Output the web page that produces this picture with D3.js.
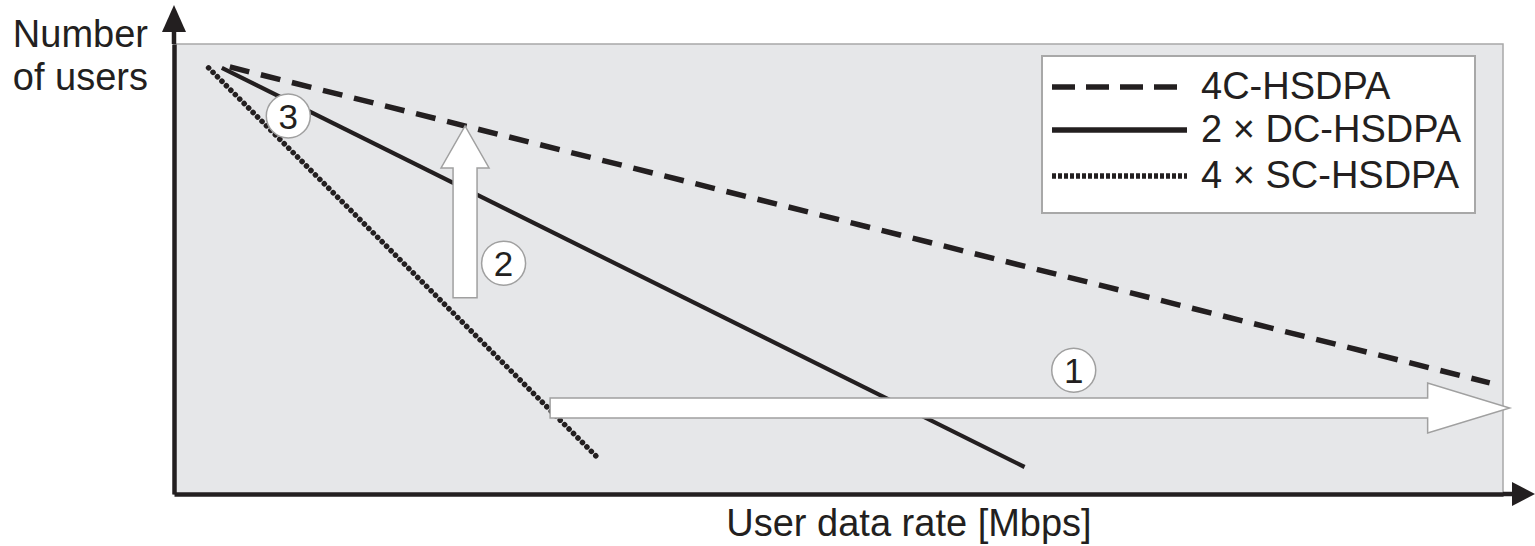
<!DOCTYPE html>
<html>
<head>
<meta charset="utf-8">
<script src="https://cdn.jsdelivr.net/npm/d3@7"></script>
<style>
  html, body { margin: 0; padding: 0; background: #ffffff; }
  svg { display: block; }
  text { font-family: "Liberation Sans", Arial, Helvetica, sans-serif; fill: #231f20; }
</style>
</head>
<body>
<svg id="chart" width="1535" height="546"></svg>
<script>
// ---- data (conceptual chart, arbitrary units 0..100) ----
const seriesNames = ["4C-HSDPA", "2 \u00d7 DC-HSDPA", "4 \u00d7 SC-HSDPA"];
const series4C = [{ x: 4.2, y: 94.9 }, { x: 99.0, y: 24.7 }];
const series2DC = [{ x: 3.6, y: 94.7 }, { x: 64.0, y: 6.0 }];
const series4SC = [{ x: 2.6, y: 94.7 }, { x: 31.9, y: 8.0 }];
const arrowRate = [{ x: 28.3, y: 19.1 }, { x: 100.5, y: 19.1 }];   // arrow 1
const arrowUsers = [{ x: 21.9, y: 43.6 }, { x: 21.9, y: 81.8 }];  // arrow 2
const markerLabels = ["1", "2", "3"];
const markerPoints = [{ x: 67.7, y: 27.5 }, { x: 24.8, y: 51.3 }, { x: 8.6, y: 84.0 }];
const xAxisTitle = "User data rate [Mbps]";
const yAxisTitle = ["Number", "of users"];

(function () {
// ---- layout ----
const svg = d3.select("#chart");
const pLeft = 174, pRight = 1503, pTop = 44, pBottom = 494;
const x = d3.scaleLinear().domain([0, 100]).range([pLeft, pRight]);
const y = d3.scaleLinear().domain([0, 100]).range([pBottom, pTop]);
const ink = "#231f20";
const fs = 38;

// plot background
svg.append("rect")
  .attr("x", x(0)).attr("y", y(100))
  .attr("width", x(100) - x(0)).attr("height", y(0) - y(100))
  .attr("fill", "#e6e7e9").attr("stroke", "#a8a8a8").attr("stroke-width", 1.5);

// series lines
const line = d3.line().x(d => x(d.x)).y(d => y(d.y));
svg.append("path").datum(series4SC).attr("d", line)
  .attr("fill", "none").attr("stroke", ink).attr("stroke-width", 5.5)
  .attr("stroke-dasharray", "0.1 6.2").attr("stroke-linecap", "round");
svg.append("path").datum(series2DC).attr("d", line)
  .attr("fill", "none").attr("stroke", ink).attr("stroke-width", 4.2);
svg.append("path").datum(series4C).attr("d", line)
  .attr("fill", "none").attr("stroke", ink).attr("stroke-width", 5.5)
  .attr("stroke-dasharray", "20 12");

// block arrows
function hArrow(p0, p1, shaft, head, headLen) {
  const x0 = x(p0.x), x1 = x(p1.x), yc = y(p0.y), xb = x1 - headLen;
  return `M${x0},${yc - shaft}L${xb},${yc - shaft}L${xb},${yc - head}L${x1},${yc}L${xb},${yc + head}L${xb},${yc + shaft}L${x0},${yc + shaft}Z`;
}
function vArrow(p0, p1, shaft, head, headLen) {
  const xc = x(p0.x), y0 = y(p0.y), y1 = y(p1.y), yb = y1 + headLen;
  return `M${xc - shaft},${y0}L${xc - shaft},${yb}L${xc - head},${yb}L${xc},${y1}L${xc + head},${yb}L${xc + shaft},${yb}L${xc + shaft},${y0}Z`;
}
svg.append("path").attr("d", hArrow(arrowRate[0], arrowRate[1], 10, 25, 82))
  .attr("fill", "#ffffff").attr("stroke", "#a0a0a0").attr("stroke-width", 1.5);
svg.append("path").attr("d", vArrow(arrowUsers[0], arrowUsers[1], 12, 24, 42))
  .attr("fill", "#ffffff").attr("stroke", "#a0a0a0").attr("stroke-width", 1.5);

// numbered circles
const mk = svg.append("g").selectAll("g").data(markerPoints).join("g")
  .attr("transform", d => `translate(${x(d.x)},${y(d.y)})`);
mk.append("circle").attr("r", 22).attr("fill", "#ffffff")
  .attr("stroke", "#a0a0a0").attr("stroke-width", 1.5);
mk.append("text").text((d, i) => markerLabels[i])
  .attr("text-anchor", "middle").attr("dy", "0.36em")
  .attr("font-size", 35);

// axes (no ticks) + arrowheads
const xAxis = d3.axisBottom(x).tickValues([]).tickSizeOuter(0);
const yAxis = d3.axisLeft(y).tickValues([]).tickSizeOuter(0);
const gx = svg.append("g").attr("transform", `translate(0,${pBottom})`).call(xAxis);
const gy = svg.append("g").attr("transform", `translate(${pLeft},0)`).call(yAxis);
[gx, gy].forEach(g => g.select(".domain").attr("stroke", ink).attr("stroke-width", 4.5));
svg.append("line").attr("x1", pRight).attr("x2", 1516).attr("y1", pBottom).attr("y2", pBottom)
  .attr("stroke", ink).attr("stroke-width", 4.5);
svg.append("line").attr("x1", pLeft).attr("x2", pLeft).attr("y1", pTop).attr("y2", 28)
  .attr("stroke", ink).attr("stroke-width", 4.5);
svg.append("path").attr("d", `M1535,${pBottom}L1512,${pBottom - 12}L1512,${pBottom + 12}Z`).attr("fill", ink);
svg.append("path").attr("d", `M${pLeft},5L${pLeft - 12},32L${pLeft + 12},32Z`).attr("fill", ink);

// axis titles
svg.append("text").attr("x", 148).attr("y", 47).attr("text-anchor", "end")
  .attr("font-size", fs).text(yAxisTitle[0]);
svg.append("text").attr("x", 148).attr("y", 90).attr("text-anchor", "end")
  .attr("font-size", fs).text(yAxisTitle[1]);
svg.append("text").attr("x", 909).attr("y", 536).attr("text-anchor", "middle")
  .attr("font-size", fs).text(xAxisTitle);

// legend
const lg = svg.append("g");
lg.append("rect").attr("x", 1042).attr("y", 56).attr("width", 433).attr("height", 157)
  .attr("fill", "#ffffff").attr("stroke", "#a8a8a8").attr("stroke-width", 2);
const legendStyles = [
  { dash: "23 11", w: 5.5, x2: 1177, cap: "butt" },
  { dash: null, w: 5.5, x2: 1187, cap: "butt" },
  { dash: "4 2", w: 5.5, x2: 1187, cap: "butt" }
];
const rowY = [87, 130, 176];
seriesNames.forEach((name, i) => {
  const s = legendStyles[i];
  lg.append("line").attr("x1", 1052).attr("x2", s.x2).attr("y1", rowY[i]).attr("y2", rowY[i])
    .attr("stroke", ink).attr("stroke-width", s.w)
    .attr("stroke-dasharray", s.dash).attr("stroke-linecap", s.cap);
  lg.append("text").attr("x", 1201).attr("y", rowY[i] + 12)
    .attr("font-size", fs).text(name);
});
})();
</script>
</body>
</html>
